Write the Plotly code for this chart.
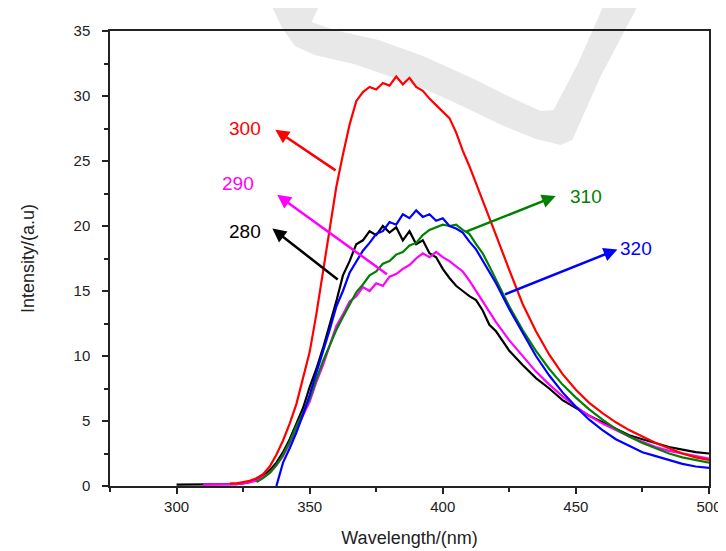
import plotly.graph_objects as go

# Shared wavelength grid (nm)
wavelength = [300, 305, 310, 315, 320, 322.5, 325, 327.5, 330, 332.5, 335, 337.5,
              340, 342.5, 345, 347.5, 350, 352.5, 355, 357.5, 360, 362.5, 365, 367.5,
              370, 372.5, 375, 377.5, 380, 382.5, 385, 387.5, 390, 392.5, 395, 397.5,
              400, 402.5, 405, 407.5, 410, 412.5, 415, 417.5, 420, 425, 430, 435,
              440, 445, 450, 455, 460, 465, 470, 475, 480, 485, 490, 495, 500]

# Emission intensities for each excitation wavelength
em_280 = [0.1, 0.1, 0.1, 0.1, 0.15, 0.15, 0.2, 0.3, 0.5, 0.8, 1.2, 1.8,
          2.6, 3.6, 4.8, 6.0, 7.6, 9.0, 10.6, 12.3, 14.2, 16.2, 17.3, 18.6,
          18.9, 19.6, 19.3, 20.0, 19.5, 19.9, 18.9, 19.6, 18.6, 18.9, 17.9, 17.6,
          16.7, 16.0, 15.4, 15.0, 14.6, 14.3, 13.5, 12.4, 11.9, 10.4, 9.3, 8.3,
          7.5, 6.6, 6.0, 5.4, 4.9, 4.4, 3.9, 3.6, 3.3, 3.0, 2.8, 2.6, 2.5]

em_290 = [None, None, 0.1, 0.1, 0.15, 0.15, 0.2, 0.3, 0.4, 0.7, 1.0, 1.6,
          2.3, 3.3, 4.4, 5.4, 6.5, 8.0, 9.3, 10.8, 12.3, 13.2, 14.2, 14.6,
          15.3, 15.0, 15.6, 15.4, 16.1, 16.3, 16.7, 17.0, 17.5, 17.9, 17.6, 18.0,
          17.6, 17.3, 16.9, 16.5, 15.8, 15.0, 14.1, 13.3, 12.6, 11.2, 10.0, 8.8,
          7.8, 6.9, 6.1, 5.4, 4.8, 4.3, 3.8, 3.4, 3.0, 2.7, 2.5, 2.3, 2.1]

em_310 = [None, None, None, None, None, None, None, None, 0.3, 0.6, 1.0, 1.6,
          2.4, 3.4, 4.6, 5.6, 6.7, 8.2, 9.6, 10.8, 12.0, 13.0, 14.0, 14.9,
          15.5, 16.2, 16.5, 17.1, 17.3, 17.8, 18.0, 18.5, 18.7, 19.3, 19.7, 19.9,
          20.1, 20.0, 20.1, 19.7, 19.4, 18.6, 17.9, 16.9, 15.9, 13.8, 12.0, 10.4,
          9.0, 7.8, 6.8, 5.9, 5.1, 4.4, 3.8, 3.3, 2.9, 2.5, 2.2, 2.0, 1.8]

em_320 = [None, None, None, None, None, None, None, None, None, None, None, 0.0,
          1.8, 2.9, 4.1, 5.5, 7.0, 8.7, 10.3, 12.0, 13.8, 15.0, 16.4, 17.2,
          18.1, 18.7, 19.4, 19.6, 20.3, 20.1, 20.9, 20.6, 21.2, 20.7, 20.9, 20.4,
          20.6, 20.0, 19.8, 19.5, 18.8, 18.2, 17.3, 16.4, 15.6, 13.6, 11.8, 10.0,
          8.5, 7.2, 6.1, 5.1, 4.3, 3.6, 3.1, 2.6, 2.3, 2.0, 1.7, 1.5, 1.4]

em_300 = [None, None, None, None, 0.2, 0.2, 0.3, 0.4, 0.6, 0.9, 1.5, 2.4,
          3.5, 4.8, 6.3, 8.2, 10.3, 13.2, 16.5, 19.8, 23.0, 25.5, 27.8, 29.6,
          30.3, 30.7, 30.5, 31.0, 30.8, 31.5, 30.9, 31.4, 30.7, 30.4, 29.8, 29.3,
          28.8, 28.3, 27.2, 25.8, 24.6, 23.3, 22.0, 20.6, 19.3, 16.6, 14.0, 11.9,
          10.1, 8.6, 7.4, 6.4, 5.6, 4.9, 4.3, 3.8, 3.3, 2.9, 2.5, 2.2, 2.0]

series_names = ["280", "290", "310", "320", "300"]
series_values = [em_280, em_290, em_310, em_320, em_300]
series_colors = ["#000000", "#ff00ff", "#008000", "#0000ff", "#ff0000"]

# Label annotations: (text, label x, label y, arrow tail x, tail y, arrow head x, head y)
label_text = ["300", "290", "280", "310", "320"]
label_x = [325.6, 323.0, 325.6, 453.8, 472.7]
label_y = [27.5, 23.3, 19.6, 22.3, 18.3]
arrow_tail_x = [360.3, 379.6, 361.1, 408.0, 422.8]
arrow_tail_y = [24.2, 16.2, 15.8, 19.5, 14.7]
arrow_head_x = [337.1, 337.8, 336.0, 442.4, 465.6]
arrow_head_y = [27.4, 22.4, 19.8, 22.3, 18.2]
label_colors = ["#ff0000", "#ff00ff", "#000000", "#008000", "#0000ff"]

fig = go.Figure()
for name, vals, col in zip(series_names, series_values, series_colors):
    fig.add_trace(go.Scatter(x=wavelength, y=vals, mode="lines", name=name,
                             line=dict(color=col, width=2.2), showlegend=False))

# Faint watermark band (pixel points converted to paper coordinates)
L, T, W, H = 102, 23, 609, 455
wm_px = [(265, -5), (277, 20), (290, 38), (310, 47), (350, 56), (415, 78), (460, 98),
         (500, 117), (535, 131), (560, 137), (572, 132), (600, 70), (640, -5),
         (605, -5), (578, 55), (553, 102), (540, 103), (515, 92), (470, 70),
         (420, 48), (375, 32), (330, 22), (307, 14), (316, -5)]
path = "M " + " L ".join(f"{(x - L) / W:.4f},{(T + H - y) / H:.4f}" for x, y in wm_px) + " Z"
fig.add_shape(type="path", path=path, xref="paper", yref="paper",
              fillcolor="#e8e8e8", line=dict(width=0), layer="below")

for t, lx, ly, tx, ty, hx, hy, c in zip(label_text, label_x, label_y, arrow_tail_x,
                                        arrow_tail_y, arrow_head_x, arrow_head_y, label_colors):
    fig.add_annotation(x=hx, y=hy, ax=tx, ay=ty, xref="x", yref="y", axref="x", ayref="y",
                       text="", showarrow=True, arrowhead=2, arrowsize=1.1,
                       arrowwidth=2.5, arrowcolor=c, standoff=0, startstandoff=0)
    fig.add_annotation(x=lx, y=ly, xref="x", yref="y", text=t, showarrow=False,
                       font=dict(family="Liberation Sans, Arial", size=19, color=c))

axis_font = dict(family="Liberation Sans, Arial", size=15, color="#222222")
fig.update_xaxes(range=[275, 500], tickvals=[300, 350, 400, 450, 500],
                 ticks="outside", ticklen=6, tickwidth=1.5, tickcolor="#222222",
                 minor=dict(dtick=25, tick0=275, ticks="outside", ticklen=4,
                            tickwidth=1.5, tickcolor="#222222"),
                 showline=True, linecolor="#222222", linewidth=1.5, mirror=True,
                 showgrid=False, zeroline=False, tickfont=axis_font,
                 ticklabelstandoff=0,
                 title=dict(text="Wavelength/(nm)", standoff=18,
                            font=dict(family="Liberation Sans, Arial", size=18, color="#222222")))
fig.update_yaxes(range=[0, 35], tickvals=[0, 5, 10, 15, 20, 25, 30, 35],
                 ticks="outside", ticklen=6, tickwidth=1.5, tickcolor="#222222",
                 minor=dict(dtick=2.5, ticks="outside", ticklen=4,
                            tickwidth=1.5, tickcolor="#222222"),
                 showline=True, linecolor="#222222", linewidth=1.5, mirror=True,
                 showgrid=False, zeroline=False, tickfont=axis_font,
                 ticklabelstandoff=9,
                 title=dict(text="Intensity/(a.u)", standoff=34,
                            font=dict(family="Liberation Sans, Arial", size=18, color="#222222")))
fig.update_layout(width=726, height=551, margin=dict(l=102, r=15, t=23, b=73),
                  plot_bgcolor="rgba(0,0,0,0)", paper_bgcolor="white")
fig.write_html("out.html")
